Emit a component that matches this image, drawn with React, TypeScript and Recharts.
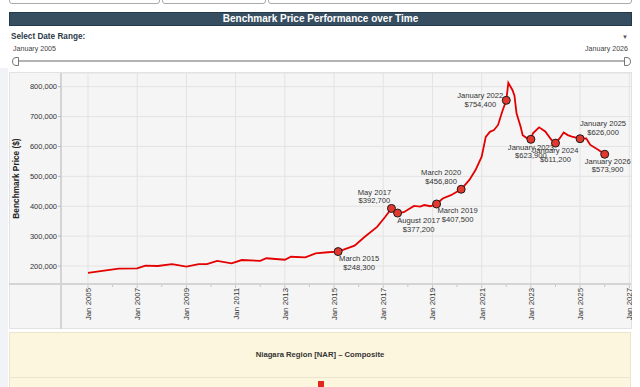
import React from 'react';
import { ComposedChart, Line, XAxis, YAxis, CartesianGrid, ReferenceLine } from 'recharts';

const FONT = '"Liberation Sans", Arial, sans-serif';

// monthly benchmark readings (YYYY-MM)
const months = [
  '2005-01', '2005-08', '2006-04', '2007-01', '2007-05', '2007-11', '2008-06', '2009-01',
  '2009-07', '2009-11', '2010-04', '2010-11', '2011-04', '2012-01', '2012-04', '2013-01',
  '2013-04', '2013-11', '2014-04', '2014-10', '2015-03', '2015-11', '2016-04', '2016-10',
  '2017-02', '2017-05', '2017-08', '2017-11', '2018-04', '2018-07', '2018-09', '2018-12',
  '2019-03', '2019-06', '2019-10', '2020-03', '2020-07', '2020-10', '2021-01', '2021-03',
  '2021-05', '2021-07', '2021-09', '2021-11', '2022-01', '2022-02', '2022-04', '2022-05',
  '2022-06', '2022-08', '2022-09', '2022-11', '2023-01', '2023-02', '2023-05', '2023-08',
  '2023-11', '2024-01', '2024-03', '2024-05', '2024-07', '2024-09', '2025-01', '2025-04',
  '2025-05', '2025-06', '2025-10', '2026-01',
];

const prices = [
  177000, 184000, 191000, 192000, 201000, 200000, 206000, 198000,
  206000, 206000, 217000, 209000, 220000, 217000, 226000, 221000,
  231000, 229000, 242000, 246000, 248300, 268000, 298000, 331000,
  365000, 392700, 377200, 380000, 401000, 399000, 404000, 400000,
  407500, 426000, 437000, 456800, 488000, 521000, 566000, 632000,
  649000, 655000, 672000, 716000, 754400, 813000, 789000, 770000,
  711000, 666000, 638000, 628000, 623900, 644000, 664000, 650000,
  622000, 611200, 627000, 647000, 638000, 633000, 626000, 627000,
  616000, 605000, 588000, 573900,
];

const markerMonths = [
  '2015-03', '2017-05', '2017-08', '2019-03', '2020-03',
  '2022-01', '2023-01', '2024-01', '2025-01', '2026-01',
];

const monthNames = [
  'January', 'February', 'March', 'April', 'May', 'June',
  'July', 'August', 'September', 'October', 'November', 'December',
];

const yTicks = [200000, 300000, 400000, 500000, 600000, 700000, 800000];
const xTicks = [
  2005, 2006, 2007, 2008, 2009, 2010, 2011, 2012, 2013, 2014, 2015, 2016,
  2017, 2018, 2019, 2020, 2021, 2022, 2023, 2024, 2025, 2026, 2027,
];
const gridYears = [2005, 2007, 2009, 2011, 2013, 2015, 2017, 2019, 2021, 2023, 2025, 2027];

// label placement around each marker: [dx, dy line 1, dy line 2]
const labelPos: Record<string, number[]> = {
  '2015-03': [21, 7, 16],
  '2017-05': [-17, -16, -8],
  '2017-08': [21, 7.5, 16.5],
  '2019-03': [21, 7, 15.5],
  '2020-03': [-20, -16.5, -7.5],
  '2022-01': [-26, -5, 4],
  '2023-01': [0, 8, 16.5],
  '2024-01': [0, 7.5, 16.5],
  '2025-01': [23, -15.5, -6.5],
  '2026-01': [3, 7, 15.5],
};

const toYear = (m: string) => {
  const [y, mo] = m.split('-').map(Number);
  return y + (mo - 1) / 12;
};

const data = months.map((m, i) => ({
  t: toYear(m),
  month: m,
  price: prices[i],
  marker: markerMonths.includes(m),
}));

const renderDot = (p: any) => {
  const { cx, cy, payload, index } = p;
  if (!payload.marker) return <g key={index} />;
  const [dx, dy1, dy2] = labelPos[payload.month] || [0, 8, 16];
  const [yy, mm] = payload.month.split('-').map(Number);
  const txt = { textAnchor: 'middle' as const, dominantBaseline: 'central' as const, fontSize: 7.6, fill: '#333', fontFamily: FONT };
  return (
    <g key={index}>
      <circle cx={cx} cy={cy} r={4} fill="#e2382d" stroke="#1b1b1b" strokeWidth={1} />
      <text x={cx + dx} y={cy + dy1} {...txt}>{monthNames[mm - 1]} {yy}</text>
      <text x={cx + dx} y={cy + dy2} {...txt}>${payload.price.toLocaleString('en-US')}</text>
    </g>
  );
};

const XTick = (p: any) => {
  const { x, y, payload } = p;
  const yr = payload.value;
  const major = yr % 2 === 1;
  return (
    <g>
      <line x1={x} x2={x} y1={y + 1} y2={y + (major ? 4 : 3)} stroke="#c4c4c4" />
      {major && (
        <text
          x={x + 3}
          y={y + 4}
          transform={`rotate(-90, ${x + 3}, ${y + 4})`}
          textAnchor="end"
          fontSize={7.8}
          fill="#333"
          fontFamily={FONT}
        >
          Jan {yr}
        </text>
      )}
    </g>
  );
};

const YLabel = (p: any) => {
  const vb = p.viewBox || { x: 0, y: 0, width: 0, height: 0 };
  const x = vb.x + 10;
  const y = vb.y + vb.height / 2;
  return (
    <text
      x={x}
      y={y}
      transform={`rotate(-90, ${x}, ${y})`}
      textAnchor="middle"
      fontSize={8.3}
      fontWeight="bold"
      fill="#222"
      fontFamily={FONT}
    >
      Benchmark Price ($)
    </text>
  );
};

const abs = (s: React.CSSProperties): React.CSSProperties => ({ position: 'absolute', ...s });

export default function App() {
  return (
    <div style={abs({ left: 0, top: 0, width: 640, height: 387, overflow: 'hidden', background: '#fff', fontFamily: FONT })}>
      {/* cut-off filter inputs */}
      <div style={abs({ left: 9, top: -20, width: 151, height: 24, border: '1px solid #aaa', borderRadius: 3, boxSizing: 'border-box' })} />
      <div style={abs({ left: 162, top: -20, width: 104, height: 24, border: '1px solid #aaa', borderRadius: 3, boxSizing: 'border-box' })} />
      <div style={abs({ left: 268, top: -20, width: 364, height: 24, border: '1px solid #aaa', borderRadius: 3, boxSizing: 'border-box' })} />

      {/* header */}
      <div style={abs({ left: 9, top: 12, width: 623, height: 14, background: '#364e5f', border: '1px solid #24394a', boxSizing: 'border-box', color: '#fff', fontWeight: 'bold', fontSize: 10, lineHeight: '12px', textAlign: 'center' })}>
        Benchmark Price Performance over Time
      </div>

      {/* date range selector */}
      <div style={abs({ left: 11, top: 32, fontSize: 8.2, fontWeight: 'bold', color: '#2b3a48', lineHeight: '10px' })}>Select Date Range:</div>
      <div style={abs({ left: 622, top: 32, fontSize: 6, color: '#555', lineHeight: '10px' })}>▼</div>
      <div style={abs({ left: 13, top: 45, fontSize: 7.1, color: '#444', lineHeight: '8px' })}>January 2005</div>
      <div style={abs({ right: 12, top: 45, fontSize: 7.1, color: '#444', lineHeight: '8px' })}>January 2026</div>
      <div style={abs({ left: 18, top: 60, width: 607, height: 2, background: '#b3b3b3' })} />
      <div style={abs({ left: 12, top: 57, width: 7, height: 9, boxSizing: 'border-box', border: '1px solid #777', borderRadius: '5px 1px 1px 5px', background: '#fff' })} />
      <div style={abs({ left: 624, top: 57, width: 7, height: 9, boxSizing: 'border-box', border: '1px solid #777', borderRadius: '1px 5px 5px 1px', background: '#fff' })} />

      {/* left page strip */}
      <div style={abs({ left: 0, top: 68, width: 8, height: 319, background: '#f1f3f6' })} />

      {/* chart panel */}
      <div style={abs({ left: 9, top: 72, width: 623, height: 257, background: '#f5f5f5', outline: '1px solid #e2e2e2', outlineOffset: -1 })}>
        <ComposedChart width={623} height={257} data={data} margin={{ top: 1, right: 1, bottom: 0, left: 0 }}>
          <CartesianGrid vertical={false} stroke="#e3e3e3" />
          {gridYears.map((y) => (
            <ReferenceLine key={y} x={y} stroke="#e3e3e3" />
          ))}
          <XAxis
            dataKey="t"
            type="number"
            domain={[2003.903, 2027.069]}
            ticks={xTicks}
            interval={0}
            height={45}
            tick={<XTick />}
            tickLine={false}
            tickSize={0}
            tickMargin={0}
            axisLine={{ stroke: '#d4d4d4', strokeWidth: 2 }}
          />
          <YAxis
            type="number"
            domain={[139800, 845800]}
            ticks={yTicks}
            width={52}
            tickSize={3}
            tickMargin={1}
            tickLine={{ stroke: '#bbb' }}
            axisLine={{ stroke: '#d4d4d4', strokeWidth: 2 }}
            tick={{ fontSize: 7.5, fill: '#333', fontFamily: FONT }}
            tickFormatter={(v: number) => v.toLocaleString('en-US')}
            label={{ content: YLabel }}
          />
          <Line
            dataKey="price"
            type="linear"
            stroke="#e40000"
            strokeWidth={1.8}
            dot={renderDot}
            activeDot={false}
            isAnimationActive={false}
          />
        </ComposedChart>
        {/* axis lines run on to the panel edges */}
        <div style={abs({ left: 0, top: 211, width: 52, height: 2, background: '#d4d4d4' })} />
        <div style={abs({ left: 51, top: 212, width: 2, height: 45, background: '#d4d4d4' })} />
      </div>

      {/* region panel */}
      <div style={abs({ left: 9, top: 332, width: 622, height: 60, background: '#fdf6df', outline: '1px solid #ebe5cf', outlineOffset: -1 })}>
        <div style={abs({ left: 0, top: 18, width: 622, textAlign: 'center', fontSize: 7.7, fontWeight: 'bold', color: '#333', lineHeight: '10px' })}>
          Niagara Region [NAR] – Composite
        </div>
        <div style={abs({ left: 0, top: 45, width: 622, height: 1, background: '#ebe5cf' })} />
        <div style={abs({ left: 309, top: 49, width: 6, height: 11, background: '#e0281e' })} />
      </div>
    </div>
  );
}
